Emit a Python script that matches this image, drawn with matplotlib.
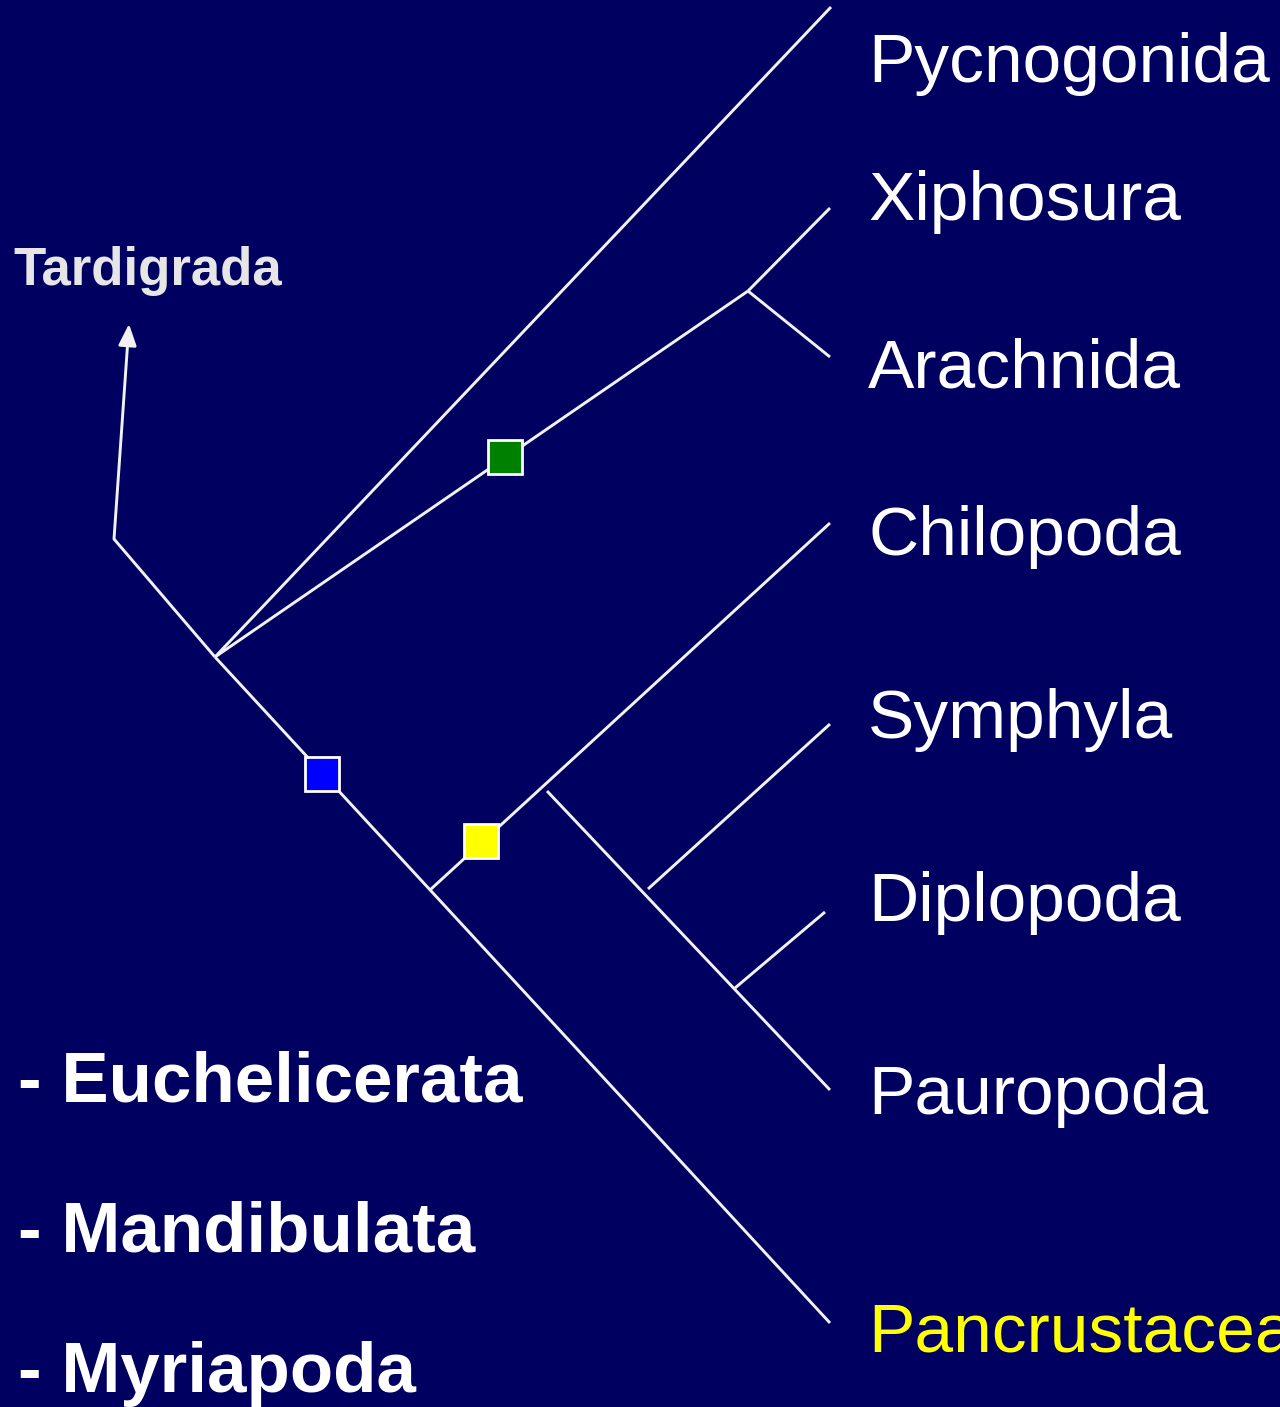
import matplotlib
matplotlib.use("Agg")
import matplotlib.pyplot as plt
from matplotlib.patches import Rectangle

plt.rcParams['font.family'] = ['Liberation Sans', 'DejaVu Sans']

BG = "#000060"
LINE = "#f2f2f2"

# tree branches as (x0, y0, x1, y1), in picture units (y down)
branches = [
    (114, 539, 215, 657),    # root stem
    (215, 657, 830, 1323),   # backbone -> Pancrustacea
    (215, 657, 831, 7),      # Pycnogonida
    (215, 657, 748, 291),    # Euchelicerata stem
    (748, 291, 830, 208),    # Xiphosura
    (748, 291, 830, 357),    # Arachnida
    (430, 890, 830, 523),    # Myriapoda stem -> Chilopoda
    (547, 791, 830, 1090),   # Progoneata -> Pauropoda
    (648, 889, 830, 724),    # Symphyla
    (735, 988, 825, 912),    # Diplopoda
]

# taxa labels (x, baseline y)
taxa = ["Pycnogonida", "Xiphosura", "Arachnida", "Chilopoda",
        "Symphyla", "Diplopoda", "Pauropoda", "Pancrustacea"]
taxa_y = [82, 220, 387, 555, 738, 921, 1114, 1351]
taxa_col = ["white"] * 7 + ["#ffff00"]

# character squares on branches
node_xy = [(505, 457), (322, 774), (481, 841)]
node_col = ["#008000", "#0000ff", "#ffff00"]

groups = ["- Euchelicerata", "- Mandibulata", "- Myriapoda"]
groups_y = [1102, 1252, 1392]

fig = plt.figure(figsize=(12.8, 14.07), dpi=100, facecolor=BG)
ax = fig.add_axes([0, 0, 1, 1])
ax.set_facecolor(BG)
ax.set_xlim(0, 1280)
ax.set_ylim(1407, 0)
ax.axis("off")

for x0, y0, x1, y1 in branches:
    ax.plot([x0, x1], [y0, y1], color=LINE, lw=2.1, solid_capstyle="butt")

# Tardigrada arrow
ax.annotate("", xy=(129, 324), xytext=(114, 539),
            arrowprops=dict(arrowstyle="-|>,head_length=1.3,head_width=0.55",
                            color=LINE, lw=2.1, shrinkA=0, shrinkB=0))
ax.text(13, 285, "Tardigrada", fontsize=38, fontweight="bold",
        color="#e6e6e6", va="baseline", ha="left")

s = 34
for (cx, cy), c in zip(node_xy, node_col):
    ax.add_patch(Rectangle((cx - s / 2, cy - s / 2), s, s, facecolor=c,
                           edgecolor="white", lw=2, zorder=5))

for name, y, c in zip(taxa, taxa_y, taxa_col):
    ax.text(868, y, name, fontsize=50, color=c, va="baseline", ha="left")

for name, y in zip(groups, groups_y):
    ax.text(18, y, name, fontsize=51, fontweight="bold", color="white",
            va="baseline", ha="left")

fig.savefig("out.png", dpi=100, facecolor=BG)
